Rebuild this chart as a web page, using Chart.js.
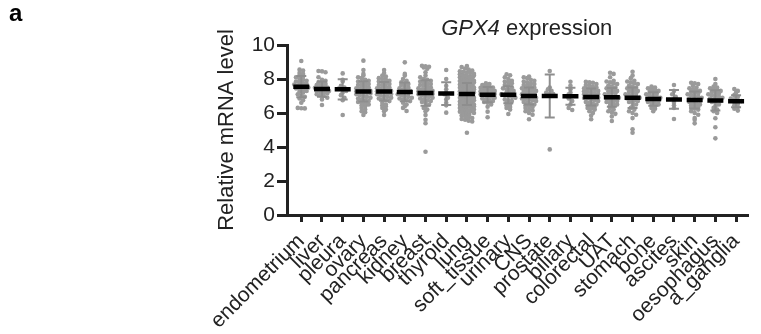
<!DOCTYPE html>
<html>
<head>
<meta charset="utf-8">
<script src="https://cdn.jsdelivr.net/npm/chart.js@4"></script>
<style>
  html, body { margin: 0; padding: 0; background: #ffffff; }
  #wrap { width: 761px; height: 334px; position: relative; }
</style>
</head>
<body>
<div id="wrap"><canvas id="gpx4" width="761" height="334"></canvas></div>
<script>
/* ---------- data ---------- */
const categories = ["endometrium", "liver", "pleura", "ovary", "pancreas", "kidney", "breast",
  "thyroid", "lung", "soft_tissue", "urinary", "CNS", "prostate", "biliary", "colorectal",
  "UAT", "stomach", "bone", "ascites", "skin", "oesophagus", "a_ganglia"];

const means = [7.55, 7.41, 7.39, 7.27, 7.27, 7.24, 7.18, 7.14, 7.12, 7.08, 7.08,
  7.0, 7.0, 6.98, 6.94, 6.92, 6.9, 6.82, 6.8, 6.76, 6.74, 6.69];

const sds = [0.62, 0.45, 0.6, 0.6, 0.55, 0.55, 0.75, 0.67, 0.65, 0.45, 0.5,
  0.5, 1.27, 0.5, 0.5, 0.55, 0.6, 0.4, 0.55, 0.5, 0.6, 0.35];

const yTicks = [0, 2, 4, 6, 8, 10];

const endometrium = [9.06, 8.55, 8.5, 8.35, 8.3, 8.2, 8.15, 8.1, 8.0, 7.95, 7.9, 7.85, 7.8, 7.75,
  7.7, 7.68, 7.62, 7.58, 7.55, 7.5, 7.45, 7.4, 7.35, 7.3, 7.25, 7.2, 7.1, 7.0, 6.95, 6.85, 6.75,
  6.6, 6.3, 6.28, 6.27];
const liver = [8.47, 8.45, 8.4, 8.1, 7.95, 7.9, 7.8, 7.75, 7.7, 7.65, 7.6, 7.55, 7.5, 7.48, 7.45,
  7.42, 7.4, 7.38, 7.35, 7.3, 7.28, 7.25, 7.2, 7.15, 7.1, 7.05, 7.0, 6.9, 6.8, 6.47];
const pleura = [8.33, 7.95, 7.85, 7.6, 7.5, 7.45, 7.4, 7.3, 7.2, 7.05, 6.9, 6.75, 5.88];
const ovary = [9.08, 8.53, 8.3, 8.2, 8.1, 8.05, 7.95, 7.9, 7.85, 7.8, 7.75, 7.7, 7.65, 7.6, 7.55,
  7.5, 7.45, 7.42, 7.38, 7.35, 7.3, 7.28, 7.25, 7.2, 7.18, 7.15, 7.1, 7.05, 7.0, 6.95, 6.9, 6.85,
  6.8, 6.75, 6.7, 6.65, 6.6, 6.55, 6.5, 6.45, 6.4, 6.3, 6.2, 6.1, 6.05, 5.88];
const pancreas = [8.53, 8.35, 8.2, 8.15, 8.05, 8.0, 7.95, 7.9, 7.85, 7.8, 7.75, 7.7, 7.65, 7.6,
  7.55, 7.5, 7.45, 7.42, 7.4, 7.35, 7.3, 7.28, 7.25, 7.2, 7.15, 7.12, 7.1, 7.05, 7.0, 6.95, 6.9,
  6.85, 6.8, 6.75, 6.7, 6.6, 6.5, 6.45, 6.4, 6.3, 6.2, 6.1, 5.88];
const kidney = [8.98, 8.3, 8.2, 8.0, 7.9, 7.8, 7.75, 7.7, 7.65, 7.6, 7.5, 7.45, 7.4, 7.35, 7.3,
  7.25, 7.2, 7.15, 7.1, 7.05, 7.0, 6.95, 6.9, 6.85, 6.8, 6.75, 6.7, 6.6, 6.5, 6.4, 6.3, 6.12];
const breast = [8.78, 8.75, 8.72, 8.68, 8.6, 8.4, 8.2, 8.1, 8.0, 7.95, 7.9, 7.85, 7.8, 7.75, 7.7,
  7.65, 7.6, 7.55, 7.5, 7.45, 7.4, 7.38, 7.35, 7.3, 7.28, 7.25, 7.2, 7.18, 7.15, 7.12, 7.1, 7.05,
  7.0, 6.95, 6.9, 6.85, 6.8, 6.75, 6.7, 6.65, 6.6, 6.5, 6.4, 6.3, 6.2, 6.1, 5.88, 5.6, 5.4, 3.72];
const thyroid = [8.53, 8.0, 7.6, 7.4, 7.2, 7.1, 6.9, 6.8, 6.6, 6.45, 6.02];
const lung = [8.76, 8.7, 8.62, 8.55, 8.5, 8.45, 8.42, 8.38, 8.35, 8.3, 8.28, 8.25, 8.2, 8.18, 8.15,
  8.12, 8.1, 8.08, 8.05, 8.02, 8.0, 7.98, 7.95, 7.93, 7.9, 7.88, 7.85, 7.83, 7.8, 7.78, 7.76, 7.74,
  7.72, 7.7, 7.68, 7.66, 7.64, 7.62, 7.6, 7.58, 7.56, 7.54, 7.52, 7.5, 7.49, 7.47, 7.45, 7.43,
  7.41, 7.4, 7.38, 7.36, 7.35, 7.33, 7.31, 7.3, 7.28, 7.27, 7.25, 7.23, 7.22, 7.2, 7.19, 7.17,
  7.16, 7.14, 7.13, 7.11, 7.1, 7.08, 7.07, 7.05, 7.04, 7.02, 7.01, 7.0, 6.98, 6.97, 6.95, 6.94,
  6.92, 6.9, 6.89, 6.87, 6.85, 6.83, 6.81, 6.8, 6.78, 6.76, 6.74, 6.72, 6.7, 6.68, 6.66, 6.64,
  6.62, 6.6, 6.58, 6.55, 6.52, 6.5, 6.48, 6.45, 6.42, 6.4, 6.37, 6.34, 6.3, 6.27, 6.24, 6.2, 6.16,
  6.12, 6.08, 6.04, 6.0, 5.95, 5.9, 5.85, 5.8, 5.75, 5.7, 5.65, 5.6, 5.55, 5.5, 4.84,
  7.6, 7.55, 7.45, 7.35, 7.25, 7.15, 7.05, 6.95, 6.85, 6.75, 7.3, 7.2, 7.1, 7.0, 6.9, 7.4, 7.5,
  7.7, 7.8, 6.6, 6.5, 6.4, 8.0, 8.1, 8.2, 6.3, 6.2, 6.1, 7.9, 6.0];
const softTissue = [7.75, 7.7, 7.65, 7.6, 7.55, 7.5, 7.48, 7.45, 7.4, 7.38, 7.35, 7.3, 7.28, 7.25,
  7.2, 7.18, 7.15, 7.12, 7.1, 7.08, 7.05, 7.02, 7.0, 6.98, 6.95, 6.9, 6.85, 6.8, 6.75, 6.7, 6.65,
  6.6, 6.5, 6.37, 6.08, 5.75];
const urinary = [8.27, 8.22, 8.1, 8.0, 7.9, 7.85, 7.8, 7.75, 7.65, 7.6, 7.5, 7.45, 7.4, 7.35, 7.3,
  7.2, 7.15, 7.1, 7.05, 7.0, 6.95, 6.9, 6.8, 6.75, 6.7, 6.6, 6.5, 6.45, 6.35, 6.3, 6.2, 5.94];
const cns = [8.14, 8.1, 8.05, 7.95, 7.9, 7.85, 7.8, 7.75, 7.7, 7.65, 7.6, 7.55, 7.5, 7.45, 7.4,
  7.38, 7.35, 7.3, 7.25, 7.2, 7.18, 7.15, 7.1, 7.08, 7.05, 7.02, 7.0, 6.98, 6.95, 6.92, 6.9, 6.85,
  6.82, 6.8, 6.75, 6.7, 6.65, 6.6, 6.55, 6.5, 6.45, 6.4, 6.35, 6.3, 6.2, 6.15, 6.1, 6.0, 5.9, 5.63];
const prostate = [8.47, 7.5, 7.4, 7.3, 7.2, 7.15, 7.12, 3.86];
const biliary = [7.84, 7.6, 7.4, 7.2, 7.1, 7.0, 6.85, 6.7, 6.5, 6.3, 6.18];
const colorectal = [7.84, 7.8, 7.78, 7.7, 7.65, 7.6, 7.55, 7.5, 7.45, 7.42, 7.4, 7.35, 7.3, 7.28,
  7.25, 7.2, 7.15, 7.12, 7.1, 7.05, 7.02, 7.0, 6.98, 6.95, 6.9, 6.88, 6.85, 6.8, 6.75, 6.7, 6.65,
  6.6, 6.55, 6.5, 6.45, 6.4, 6.35, 6.3, 6.25, 6.2, 6.1, 6.0, 5.85, 5.63];
const uat = [8.37, 8.3, 8.1, 7.9, 7.85, 7.8, 7.75, 7.7, 7.6, 7.55, 7.5, 7.45, 7.4, 7.35, 7.3, 7.25,
  7.2, 7.15, 7.1, 7.05, 7.0, 6.95, 6.9, 6.85, 6.8, 6.75, 6.7, 6.65, 6.6, 6.55, 6.5, 6.45, 6.4, 6.3,
  6.2, 6.1, 6.05, 5.95, 5.8, 5.53];
const stomach = [8.43, 8.2, 8.05, 7.9, 7.85, 7.8, 7.75, 7.7, 7.6, 7.55, 7.5, 7.45, 7.4, 7.35, 7.3,
  7.25, 7.2, 7.15, 7.1, 7.05, 7.0, 6.95, 6.9, 6.85, 6.8, 6.75, 6.7, 6.65, 6.6, 6.5, 6.4, 6.3, 6.2,
  6.1, 6.0, 5.9, 5.7, 5.04, 4.84];
const bone = [7.55, 7.5, 7.45, 7.4, 7.35, 7.3, 7.25, 7.2, 7.15, 7.1, 7.05, 7.0, 6.95, 6.9, 6.85,
  6.8, 6.75, 6.7, 6.65, 6.6, 6.55, 6.5, 6.45, 6.4, 6.3, 6.25, 6.1];
const ascites = [7.65, 7.3, 7.1, 6.95, 6.8, 6.6, 6.45, 6.3, 5.65];
const skin = [7.78, 7.75, 7.7, 7.6, 7.5, 7.45, 7.4, 7.35, 7.3, 7.25, 7.2, 7.15, 7.1, 7.05, 7.0,
  6.95, 6.9, 6.85, 6.8, 6.75, 6.7, 6.65, 6.6, 6.55, 6.5, 6.45, 6.4, 6.35, 6.3, 6.25, 6.2, 6.1, 6.0,
  5.9, 5.7, 5.6, 5.39];
const oesophagus = [8.0, 7.7, 7.55, 7.5, 7.45, 7.4, 7.35, 7.3, 7.25, 7.2, 7.15, 7.1, 7.05, 7.0,
  6.95, 6.9, 6.85, 6.8, 6.75, 6.7, 6.65, 6.6, 6.5, 6.4, 6.3, 6.2, 6.1, 6.0, 5.69, 5.16, 4.51];
const aGanglia = [7.41, 7.3, 7.2, 7.05, 6.95, 6.85, 6.8, 6.75, 6.7, 6.65, 6.55, 6.45, 6.35, 6.25, 6.14];

const groups = [endometrium, liver, pleura, ovary, pancreas, kidney, breast, thyroid, lung,
  softTissue, urinary, cns, prostate, biliary, colorectal, uat, stomach, bone, ascites, skin,
  oesophagus, aGanglia];

/* ---------- style ---------- */
const FONT = '"Liberation Sans", Arial, sans-serif';
const INK = "#222222";
const DOT = "#9a9a9a";

// scatter-dot layout: values in the same band are spread sideways around the column
function swarm(vals, center) {
  const rows = {};
  vals.forEach(v => {
    const k = Math.round(v / 0.2);
    (rows[k] = rows[k] || []).push(v);
  });
  const pts = [];
  Object.values(rows).forEach(row => {
    const n = row.length;
    const step = n > 1 ? Math.min(0.17, 0.68 / (n - 1)) : 0;
    row.forEach((v, j) => pts.push({ x: center + (j - (n - 1) / 2) * step, y: v }));
  });
  return pts;
}

const dotData = [];
groups.forEach((g, i) => dotData.push(...swarm(g, i)));
const meanData = means.map((m, i) => ({ x: i, y: m }));

/* ---------- plugins ---------- */
// SD error bars, drawn after the dots and before the mean bars
const errorBars = {
  id: "errorBars",
  afterDatasetDraw(chart, args) {
    if (args.index !== 1) return;
    const ctx = chart.ctx;
    const xs = chart.scales.x;
    const ys = chart.scales.y;
    ctx.save();
    ctx.strokeStyle = "#8e8e8e";
    ctx.lineWidth = 2;
    means.forEach((m, i) => {
      const x = xs.getPixelForValue(i);
      const top = ys.getPixelForValue(m + sds[i]);
      const bot = ys.getPixelForValue(m - sds[i]);
      ctx.beginPath();
      ctx.moveTo(x, top); ctx.lineTo(x, bot);
      ctx.moveTo(x - 5, top); ctx.lineTo(x + 5, top);
      ctx.moveTo(x - 5, bot); ctx.lineTo(x + 5, bot);
      ctx.stroke();
    });
    ctx.restore();
  }
};

// title with italic gene name + panel letter
const panelText = {
  id: "panelText",
  afterDraw(chart) {
    const ctx = chart.ctx;
    const area = chart.chartArea;
    ctx.save();
    ctx.fillStyle = INK;
    ctx.textBaseline = "alphabetic";
    ctx.textAlign = "left";
    const gene = "GPX4";
    const rest = " expression";
    ctx.font = "italic 22px " + FONT;
    const w1 = ctx.measureText(gene).width;
    ctx.font = "22px " + FONT;
    const w2 = ctx.measureText(rest).width;
    const x0 = (area.left + area.right) / 2 + 9 - (w1 + w2) / 2;
    ctx.font = "italic 22px " + FONT;
    ctx.fillText(gene, x0, 35);
    ctx.font = "22px " + FONT;
    ctx.fillText(rest, x0 + w1, 35);

    ctx.font = "bold 24px " + FONT;
    ctx.fillStyle = "#000000";
    ctx.fillText("a", 9, 21);
    ctx.restore();
  }
};

/* ---------- chart ---------- */
new Chart(document.getElementById("gpx4"), {
  type: "scatter",
  data: {
    datasets: [
      {
        label: "mean",
        data: meanData,
        pointStyle: "line",
        pointRadius: 8,
        pointHoverRadius: 8,
        borderColor: "#000000",
        borderWidth: 4.5
      },
      {
        label: "samples",
        data: dotData,
        pointRadius: 2.3,
        pointHoverRadius: 2.3,
        backgroundColor: DOT,
        borderWidth: 0
      }
    ]
  },
  options: {
    responsive: false,
    animation: false,
    events: [],
    layout: { padding: { left: 205, top: 45, right: 1, bottom: 0 } },
    plugins: {
      legend: { display: false },
      tooltip: { enabled: false },
      title: { display: false }
    },
    scales: {
      x: {
        type: "linear",
        min: -0.69,
        max: 21.6,
        afterBuildTicks: scale => {
          scale.ticks = categories.map((c, i) => ({ value: i }));
        },
        afterFit: scale => {
          scale.height = 119;
          scale.paddingLeft = 0;
          scale.paddingRight = 0;
        },
        ticks: {
          autoSkip: false,
          minRotation: 45,
          maxRotation: 45,
          padding: 7,
          color: INK,
          font: { family: FONT, size: 21 },
          callback: (v, i) => categories[i]
        },
        grid: {
          drawOnChartArea: false,
          tickLength: 7,
          tickWidth: 3,
          tickColor: INK
        },
        border: { display: true, width: 3, color: INK }
      },
      y: {
        min: 0,
        max: 10,
        afterBuildTicks: scale => {
          scale.ticks = yTicks.map(v => ({ value: v }));
        },
        afterFit: scale => { scale.width = 82; },
        ticks: {
          padding: 2,
          color: INK,
          font: { family: FONT, size: 21 }
        },
        grid: {
          drawOnChartArea: false,
          tickLength: 10,
          tickWidth: 3,
          tickColor: INK
        },
        border: { display: true, width: 3, color: INK },
        title: {
          display: true,
          text: "Relative mRNA level",
          color: INK,
          font: { family: FONT, size: 22 },
          padding: { top: 9, bottom: 0 }
        }
      }
    }
  },
  plugins: [errorBars, panelText]
});
</script>
</body>
</html>
